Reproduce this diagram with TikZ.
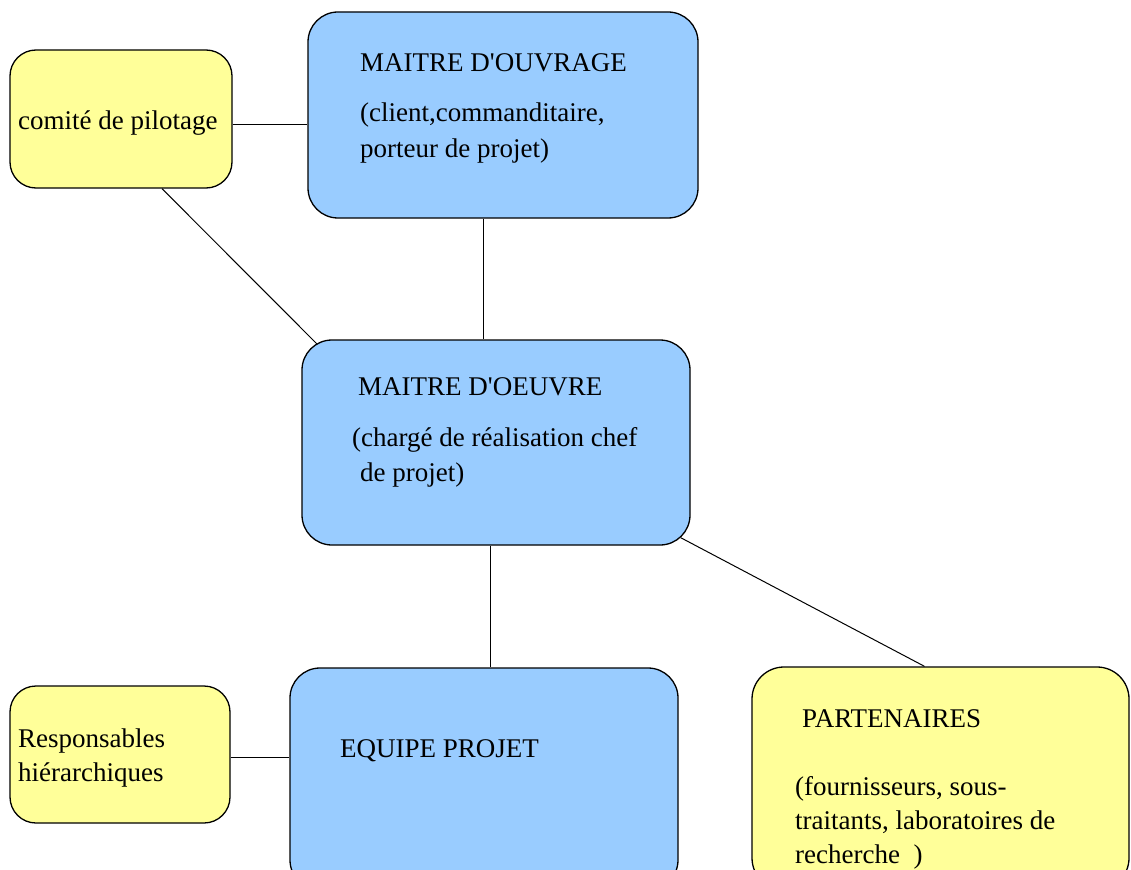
\documentclass[tikz,border=0pt]{standalone}
\usepackage{fontspec}
\setmainfont{Liberation Serif}
\definecolor{boxblue}{HTML}{99CCFF}
\definecolor{boxyellow}{HTML}{FFFF99}
\begin{document}
\begin{tikzpicture}[x=1pt,y=-1pt,
  bluebox/.style={draw=black,line width=1.3pt,fill=boxblue,rounded corners=30pt,inner sep=0pt},
  yellowbox/.style={draw=black,line width=1.3pt,fill=boxyellow,rounded corners=26pt,inner sep=0pt},
  lbl/.style={anchor=base west,inner sep=0pt,font=\fontsize{27}{31}\selectfont},
  link/.style={draw=black,line width=1pt}]
\useasboundingbox (0,0) rectangle (1131,869);
\clip (0,0) rectangle (1131,869);
\fill[white] (0,0) rectangle (1131,869);
% boxes
\node[yellowbox,minimum width=222pt,minimum height=138pt] (com) at (121,119) {};
\node[bluebox,minimum width=390pt,minimum height=206pt] (mo) at (503,115) {};
\node[bluebox,minimum width=388pt,minimum height=205pt] (moe) at (496,442.5) {};
\node[bluebox,minimum width=388pt,minimum height=222pt] (ep) at (484,779) {};
\node[yellowbox,minimum width=220pt,minimum height=137pt] (resp) at (120,754.5) {};
\node[yellowbox,minimum width=377pt,minimum height=223pt,rounded corners=32pt] (part) at (940.5,778.5) {};
% connectors
\draw[link] ([yshift=-6pt]com.east) -- ([yshift=-6pt]com.east -| mo.west);
\draw[link] ([xshift=-20pt]mo.south) -- ([xshift=-20pt]mo.south |- moe.north);
\draw[link] ([xshift=41pt]com.south) -- ([xshift=16pt,yshift=-5pt]moe.north west);
\draw[link] ([xshift=-6pt]moe.south) -- ([xshift=-6pt]moe.south |- ep.north);
\draw[link] ([xshift=-10pt,yshift=8pt]moe.south east) -- ([xshift=-16pt]part.north);
\draw[link] ([yshift=-2.5pt]resp.east) -- ([yshift=-2.5pt]resp.east -| ep.west);
% texts
\node[lbl] (comt) at (18,130) {comité de pilotage};
\node[lbl] (mot1) at (360,72) {MAITRE D\textquotesingle OUVRAGE};
\node[lbl] (mot2) at (360,122) {(client,commanditaire,};
\node[lbl] (mot3) at (360,158) {porteur de projet)};
\node[lbl] (moet1) at (358,395) {MAITRE D\textquotesingle OEUVRE};
\node[lbl] (moet2) at (352,446) {(chargé de réalisation chef};
\node[lbl] (moet3) at (360,481) {de projet)};
\node[lbl] (ept) at (340,757) {EQUIPE PROJET};
\node[lbl] (respt1) at (18,747) {Responsables};
\node[lbl] (respt2) at (18,781) {hiérarchiques};
\node[lbl] (partt1) at (802,727) {PARTENAIRES};
\node[lbl] (partt2) at (795,795) {(fournisseurs, sous-};
\node[lbl] (partt3) at (795,829) {traitants, laboratoires de};
\node[lbl] (partt4) at (795,863) {recherche\ \ )};
\end{tikzpicture}
\end{document}
